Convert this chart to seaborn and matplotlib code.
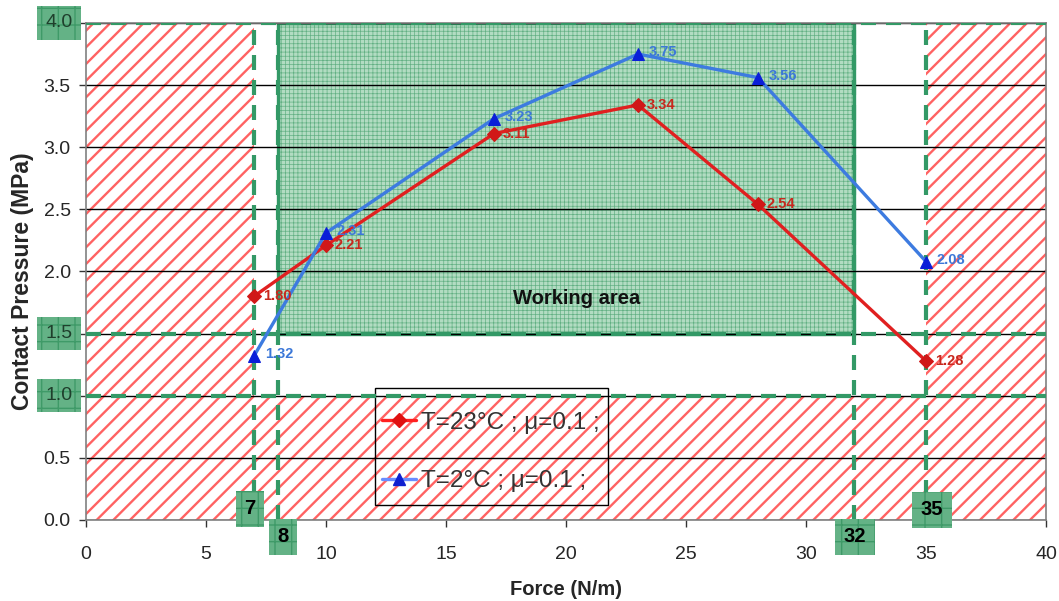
import matplotlib
matplotlib.use("Agg")
import matplotlib.pyplot as plt
import seaborn as sns
import pandas as pd
from matplotlib.lines import Line2D

# ---- data ----
force = [7, 10, 17, 23, 28, 35]
p_23c = [1.80, 2.21, 3.11, 3.34, 2.54, 1.28]
p_2c = [1.32, 2.31, 3.23, 3.75, 3.56, 2.08]
label_23c = "T=23°C ; μ=0.1 ;"
label_2c = "T=2°C ; μ=0.1 ;"
x_ticks = [0, 5, 10, 15, 20, 25, 30, 35, 40]
y_ticks = [0.0, 0.5, 1.0, 1.5, 2.0, 2.5, 3.0, 3.5, 4.0]
boxed_y = [4.0, 1.5, 1.0]
boxed_x = [7, 8, 32, 35]
work_x = (8, 32)
work_y = (1.5, 4.0)
bad_left = (0, 7)
bad_right = (35, 40)
bad_low = (0, 1.0)

sns.set_theme(style="white")
plt.rcParams["font.family"] = ["Liberation Sans", "DejaVu Sans"]

fig = plt.figure(figsize=(10.59, 6.01), dpi=100)
ax = fig.add_axes([0.0812, 0.1348, 0.9065, 0.827])
ax.set_xlim(0, 40)
ax.set_ylim(0, 4.0)

RED_H = "#ff6262"
GREEN = "#339966"


def hatch_rect(x0, x1, y0, y1, fc, hc, hatch, hlw, z):
    with plt.rc_context({"hatch.linewidth": hlw}):
        r = plt.Rectangle((x0, y0), x1 - x0, y1 - y0, facecolor=fc,
                          edgecolor=hc, hatch=hatch, linewidth=0, zorder=z)
        if hasattr(r, "set_hatch_linewidth"):
            r.set_hatch_linewidth(hlw)
        ax.add_patch(r)
    return r


# red hatched forbidden zones
hatch_rect(bad_left[0], bad_left[1], 0, 4.0, "white", RED_H, "//", 1.7, 0.5)
hatch_rect(bad_right[0], bad_right[1], 0, 4.0, "white", RED_H, "//", 1.7, 0.5)
hatch_rect(0, 40, bad_low[0], bad_low[1], "white", RED_H, "//", 1.7, 0.5)

# green working area
hatch_rect(work_x[0], work_x[1], work_y[0], work_y[1], "#b2dcc2", "#62b083",
           "++++", 0.5, 0.6)
ax.add_patch(plt.Rectangle((work_x[0], work_y[0]), work_x[1] - work_x[0],
                           work_y[1] - work_y[0], facecolor="none",
                           edgecolor=GREEN, linewidth=2.4, zorder=0.7))

# horizontal gridlines
for y in y_ticks:
    ax.axhline(y, color="black", linewidth=1.0, zorder=1)

# green dashed limit lines
for xv in boxed_x:
    ax.axvline(xv, color=GREEN, linewidth=3.0, dashes=(3.6, 2.4), zorder=3)
for yv in boxed_y:
    ax.axhline(yv, color=GREEN, linewidth=3.0, dashes=(3.6, 2.4), zorder=3)

ax.text(20.46, 1.78, "Working area", fontsize=14.5, fontweight="bold",
        ha="center", va="center", color="#111111", zorder=4)

# data lines
df = pd.DataFrame({"force": force + force,
                   "p": p_23c + p_2c,
                   "series": [label_23c] * len(force) + [label_2c] * len(force)})
sns.lineplot(data=df[df.series == label_23c], x="force", y="p", ax=ax,
             color="#e02020", linewidth=2.4, marker="D", markersize=7,
             legend=False, zorder=5)
l_red = ax.lines[-1]
l_red.set_markerfacecolor("#d01818")
l_red.set_markeredgecolor("#d01818")
sns.lineplot(data=df[df.series == label_2c], x="force", y="p", ax=ax,
             color="#3d7be0", linewidth=2.4, marker="^", markersize=9,
             legend=False, zorder=5)
l_blue = ax.lines[-1]
l_blue.set_markerfacecolor("#0a1ed8")
l_blue.set_markeredgecolor("#0a1ed8")

for xv, yv in zip(force, p_23c):
    ax.annotate(f"{yv:.2f}", (xv, yv), xytext=(9, 0), textcoords="offset pixels",
                fontsize=10.5, fontweight="bold", color="#c8281e", va="center",
                zorder=6)
for xv, yv in zip(force, p_2c):
    ax.annotate(f"{yv:.2f}", (xv, yv), xytext=(11, 2), textcoords="offset pixels",
                fontsize=10.5, fontweight="bold", color="#3c78d8", va="center",
                zorder=6)

# legend (frame drawn separately)
ax.add_patch(plt.Rectangle((0.301, 0.03), 0.243, 0.236, transform=ax.transAxes,
                           facecolor="none", edgecolor="black", linewidth=1.0,
                           zorder=2.5))
h1 = Line2D([], [], color="#ff2020", linewidth=2.4, marker="D", markersize=7,
            markerfacecolor="#e01010", markeredgecolor="#e01010")
h2 = Line2D([], [], color="#6a8cff", linewidth=2.4, marker="^", markersize=9,
            markerfacecolor="#1020d0", markeredgecolor="#1020d0")
leg = ax.legend([h1, h2], [label_23c, label_2c], loc="upper left",
                bbox_to_anchor=(0.308, 0.218), borderaxespad=0, borderpad=0,
                fontsize=17.5, frameon=False, labelspacing=1.5,
                handlelength=1.4, handletextpad=0.2)
leg.set_zorder(2.5)
for t in leg.get_texts():
    t.set_color("#333333")

# ticks
ax.set_xticks(x_ticks)
ax.set_xticklabels([str(v) for v in x_ticks], fontsize=14)
ax.set_yticks(y_ticks)
ax.set_yticklabels(["" if v in boxed_y else f"{v:.1f}" for v in y_ticks],
                   fontsize=14)
ax.tick_params(axis="both", direction="out", length=5, width=1,
               color="#333333", bottom=True, left=True)
ax.tick_params(axis="x", pad=14)
ax.tick_params(axis="y", pad=6)

box_kw = dict(boxstyle="square,pad=0.42", facecolor="#64b286",
              edgecolor="#3f9a68", linewidth=0, hatch="+")
for yv in boxed_y:
    ax.annotate(f"{yv:.1f}", (0, yv), xycoords="data", xytext=(-27, 0),
                textcoords="offset pixels", ha="center", va="center",
                fontsize=14, color="#1f3f2c", bbox=box_kw, annotation_clip=False,
                zorder=7)
x_offsets = {7: (-4, 11), 8: (5, -17), 32: (1, -17), 35: (6, 10)}
for xv in boxed_x:
    ax.annotate(str(xv), (xv, 0), xycoords="data", xytext=x_offsets[xv],
                textcoords="offset pixels", ha="center", va="center",
                fontsize=14.5, fontweight="bold", color="black", bbox=box_kw,
                annotation_clip=False, zorder=7)

ax.set_xlabel("Force (N/m)", fontsize=14.5, fontweight="bold", labelpad=12)
ax.set_ylabel("Contact Pressure (MPa)", fontsize=16.5, fontweight="bold")
ax.yaxis.set_label_coords(-0.054, 0.481)

for s in ax.spines.values():
    s.set_color("#808080")
    s.set_linewidth(1.2)
    s.set_zorder(2)

fig.savefig("out.png", dpi=100)
